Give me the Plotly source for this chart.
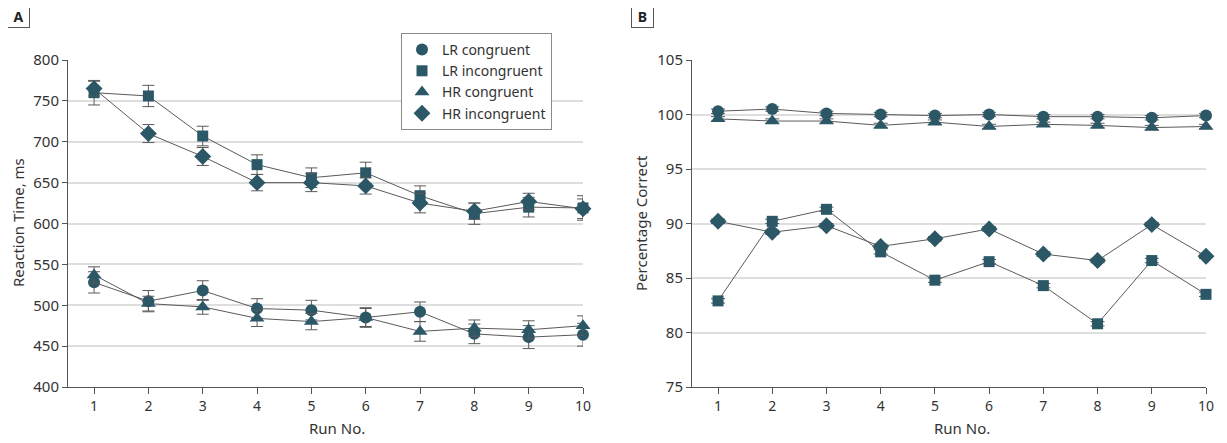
import plotly.graph_objects as go

runs = [1, 2, 3, 4, 5, 6, 7, 8, 9, 10]

# Panel A: reaction time (ms)
rt_lr_con = [528, 505, 518, 496, 494, 485, 492, 465, 461, 464]
rt_lr_con_err = [13, 13, 12, 12, 12, 12, 12, 12, 14, 14]
rt_lr_inc = [760, 756, 707, 672, 656, 662, 634, 612, 620, 619]
rt_lr_inc_err = [15, 13, 12, 12, 12, 13, 12, 13, 12, 15]
rt_hr_con = [537, 502, 498, 484, 480, 485, 468, 472, 470, 475]
rt_hr_con_err = [10, 9, 9, 10, 10, 11, 12, 10, 11, 12]
rt_hr_inc = [765, 710, 682, 650, 650, 646, 625, 615, 627, 618]
rt_hr_inc_err = [9, 11, 11, 10, 11, 10, 12, 10, 10, 12]

# Panel B: percentage correct
pc_lr_con = [100.3, 100.5, 100.1, 100.0, 99.9, 100.0, 99.8, 99.8, 99.7, 99.9]
pc_lr_inc = [82.9, 90.2, 91.3, 87.4, 84.8, 86.5, 84.3, 80.8, 86.6, 83.5]
pc_hr_con = [99.6, 99.4, 99.4, 99.0, 99.3, 98.9, 99.1, 99.0, 98.8, 98.9]
pc_hr_inc = [90.2, 89.2, 89.8, 87.9, 88.6, 89.5, 87.2, 86.6, 89.9, 87.0]
pc_err = [0.2] * 10

names = ["LR congruent", "LR incongruent", "HR congruent", "HR incongruent"]
symbols = ["circle", "square", "triangle-up", "diamond"]
sizes = [12, 11, 13, 13]

MARK = "#2b5766"
LINE = "#5a5a5a"
FONT = "Noto Sans, Open Sans, sans-serif"

# page body has an 8px margin: shrink the figure and shift coordinates
OFF = 8
W, H = 1227 - OFF, 443 - OFF


def px(x):
    return (x - OFF) / W


def py(y):
    return 1 - (y - OFF) / H


fig = go.Figure()

panelA = [(rt_lr_con, rt_lr_con_err), (rt_lr_inc, rt_lr_inc_err),
          (rt_hr_con, rt_hr_con_err), (rt_hr_inc, rt_hr_inc_err)]
for (vals, errs), nm, sym, sz in zip(panelA, names, symbols, sizes):
    fig.add_trace(go.Scatter(
        x=runs, y=vals, name=nm, mode="lines+markers",
        line=dict(color=LINE, width=1),
        marker=dict(symbol=sym, size=sz, color=MARK),
        error_y=dict(type="data", array=errs, visible=True, color=LINE,
                     thickness=1, width=6),
        cliponaxis=False, xaxis="x", yaxis="y", showlegend=False))

panelB = [pc_lr_con, pc_lr_inc, pc_hr_con, pc_hr_inc]
for vals, nm, sym, sz in zip(panelB, names, symbols, sizes):
    fig.add_trace(go.Scatter(
        x=runs, y=vals, name=nm, mode="lines+markers",
        line=dict(color=LINE, width=1),
        marker=dict(symbol=sym, size=sz, color=MARK),
        error_y=dict(type="data", array=pc_err, visible=True, color=LINE,
                     thickness=1, width=7),
        cliponaxis=False, xaxis="x2", yaxis="y2", showlegend=False))

# legend entries (markers only)
for nm, sym, sz in zip(names, symbols, sizes):
    fig.add_trace(go.Scatter(
        x=[None], y=[None], name=nm, mode="markers",
        marker=dict(symbol=sym, size=sz, color=MARK),
        xaxis="x", yaxis="y", showlegend=True))

yd = [py(387), py(60)]

common_x = dict(range=[0.52, 10], tickmode="array", tickvals=runs,
                ticktext=[str(r) for r in runs], showgrid=False,
                showline=True, linecolor="#555", linewidth=1,
                ticks="outside", ticklen=6, tickcolor="#555",
                tickfont=dict(size=14, color="#333", family=FONT),
                zeroline=False, automargin=False)
common_y = dict(showgrid=True, gridcolor="#dedede", gridwidth=1.5,
                showline=True, linecolor="#555", linewidth=1,
                ticks="outside", ticklen=5, tickcolor="#555",
                tickfont=dict(size=15, color="#333", family=FONT),
                zeroline=False, automargin=False)

fig.update_layout(
    width=W, height=H,
    margin=dict(l=0, r=0, t=0, b=0),
    paper_bgcolor="white", plot_bgcolor="white",
    font=dict(family=FONT, color="#333"),
    xaxis=dict(domain=[px(68), px(583)], anchor="y", **common_x),
    yaxis=dict(domain=yd, anchor="x", range=[400, 800],
               tickvals=[400, 450, 500, 550, 600, 650, 700, 750, 800], **common_y),
    xaxis2=dict(domain=[px(692), px(1206)], anchor="y2", **common_x),
    yaxis2=dict(domain=yd, anchor="x2", range=[75, 105],
                tickvals=[75, 80, 85, 90, 95, 100, 105], **common_y),
    legend=dict(x=px(401), y=py(33), xanchor="left", yanchor="top",
                bordercolor="#8a8a8a", borderwidth=1, bgcolor="white",
                font=dict(size=14, color="#333", family=FONT),
                itemwidth=30, tracegroupgap=0),
    showlegend=True,
)

ann = [
    dict(text="<b>A</b>", x=px(18), y=py(16.5), showarrow=False,
         font=dict(size=14, color="#222"), bordercolor="#555", borderwidth=1,
         borderpad=2, width=17, height=17, xanchor="center", yanchor="middle"),
    dict(text="<b>B</b>", x=px(642), y=py(16.5), showarrow=False,
         font=dict(size=14, color="#222"), bordercolor="#555", borderwidth=1,
         borderpad=2, width=17, height=17, xanchor="center", yanchor="middle"),
    dict(text="Reaction Time, ms", x=px(18), y=py(223), textangle=-90,
         showarrow=False, font=dict(size=15, color="#333"),
         xanchor="center", yanchor="middle"),
    dict(text="Percentage Correct", x=px(641), y=py(223), textangle=-90,
         showarrow=False, font=dict(size=15, color="#333"),
         xanchor="center", yanchor="middle"),
    dict(text="Run No.", x=px(337), y=py(428), showarrow=False,
         font=dict(size=15, color="#333"), xanchor="center", yanchor="middle"),
    dict(text="Run No.", x=px(962), y=py(428), showarrow=False,
         font=dict(size=15, color="#333"), xanchor="center", yanchor="middle"),
]
for a in ann:
    a.update(xref="paper", yref="paper")
fig.update_layout(annotations=ann)

fig.write_html("out.html")
